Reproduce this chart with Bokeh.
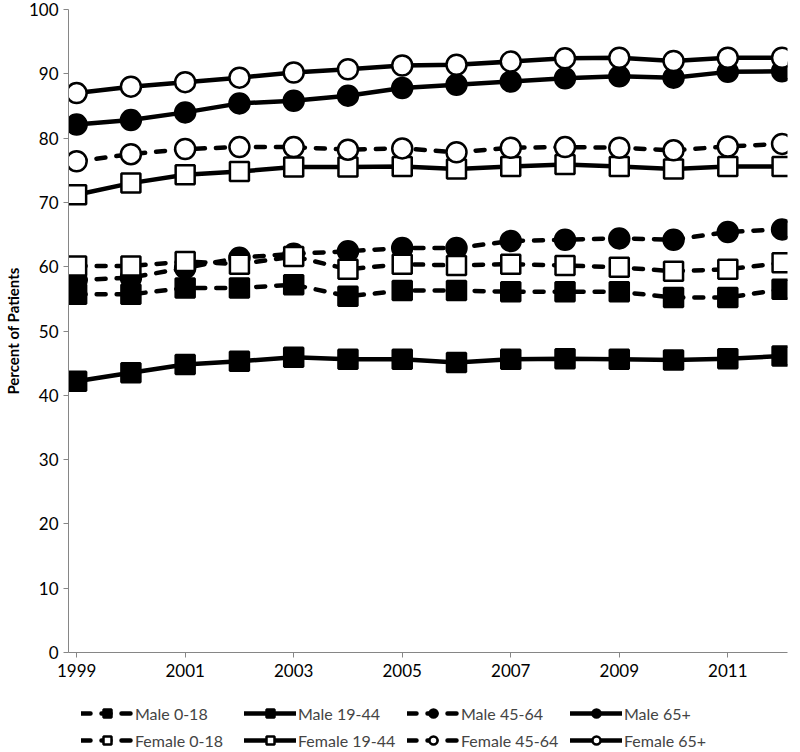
from bokeh.plotting import figure
from bokeh.layouts import column
from bokeh.models import Range1d, Legend, LegendItem, FixedTicker
from bokeh.embed import file_html
from bokeh.resources import INLINE

years = list(range(1999, 2013))

male_0_18 = [55.7, 55.7, 56.7, 56.7, 57.2, 55.4, 56.3, 56.3, 56.1, 56.1, 56.1, 55.2, 55.2, 56.5]
male_19_44 = [42.2, 43.5, 44.8, 45.3, 45.9, 45.6, 45.6, 45.1, 45.6, 45.7, 45.6, 45.5, 45.7, 46.1]
male_45_64 = [57.9, 58.3, 59.8, 61.4, 62.0, 62.4, 62.9, 62.9, 64.0, 64.2, 64.4, 64.2, 65.4, 65.8]
male_65 = [82.1, 82.8, 84.0, 85.4, 85.8, 86.6, 87.8, 88.3, 88.8, 89.3, 89.6, 89.4, 90.3, 90.4]
female_0_18 = [60.1, 60.1, 60.8, 60.4, 61.6, 59.6, 60.4, 60.2, 60.4, 60.2, 59.9, 59.3, 59.6, 60.6]
female_19_44 = [71.2, 73.0, 74.3, 74.8, 75.5, 75.5, 75.6, 75.2, 75.6, 75.9, 75.6, 75.2, 75.6, 75.6]
female_45_64 = [76.4, 77.5, 78.3, 78.6, 78.6, 78.2, 78.4, 77.8, 78.5, 78.6, 78.5, 78.1, 78.7, 79.1]
female_65 = [87.0, 88.0, 88.7, 89.4, 90.2, 90.7, 91.3, 91.4, 91.9, 92.4, 92.5, 92.0, 92.5, 92.5]

x_ticks = [1999, 2001, 2003, 2005, 2007, 2009, 2011]
y_ticks = [0, 10, 20, 30, 40, 50, 60, 70, 80, 90, 100]

series = [
    ("Male 0-18", male_0_18, "dashed", "square", "black"),
    ("Male 19-44", male_19_44, "solid", "square", "black"),
    ("Male 45-64", male_45_64, "dashed", "circle", "black"),
    ("Male 65+", male_65, "solid", "circle", "black"),
    ("Female 0-18", female_0_18, "dashed", "square", "white"),
    ("Female 19-44", female_19_44, "solid", "square", "white"),
    ("Female 45-64", female_45_64, "dashed", "circle", "white"),
    ("Female 65+", female_65, "solid", "circle", "white"),
]

FONT = "Lato"

p = figure(width=792, height=688, output_backend="svg", toolbar_location=None,
           x_range=Range1d(1998.85, 2012.1), y_range=Range1d(0, 100),
           min_border_left=59, min_border_right=5, min_border_top=9, min_border_bottom=36)
p.outline_line_color = None
p.xgrid.visible = False
p.ygrid.visible = False
p.background_fill_color = "white"

for ax in (p.xaxis[0], p.yaxis[0]):
    ax.axis_line_color = "#868686"
    ax.major_tick_line_color = "#868686"
    ax.minor_tick_line_color = None
    ax.major_tick_in = 0
    ax.major_tick_out = 5
    ax.major_label_text_font = FONT
    ax.major_label_text_font_size = "17px"
    ax.major_label_text_color = "black"

p.xaxis.ticker = FixedTicker(ticks=x_ticks)
p.yaxis.ticker = FixedTicker(ticks=y_ticks)
p.yaxis.axis_label = "Percent of Patients"
p.yaxis.axis_label_text_font = FONT
p.yaxis.axis_label_text_font_style = "bold"
p.yaxis.axis_label_text_font_size = "15px"
p.yaxis.axis_label_text_color = "black"
p.yaxis.axis_label_standoff = 4
p.yaxis.major_label_standoff = 5
p.xaxis.major_label_standoff = 6

# legend-only strip below the chart (its ranges keep the proxy data out of view)
lf = figure(width=792, height=64, output_backend="svg", toolbar_location=None,
            x_range=Range1d(0, 1), y_range=Range1d(0, 1),
            x_axis_location=None, y_axis_location=None,
            min_border_left=0, min_border_right=0, min_border_top=0, min_border_bottom=0)
lf.grid.visible = False
lf.outline_line_color = None

male_items = []
female_items = []
for name, vals, dash, marker, fill in series:
    dash_val = "9 11" if dash == "dashed" else "solid"
    size = 19 if marker == "square" else 20
    line_kw = dict(line_color="black", line_width=4.5, line_dash=dash_val,
                   line_cap="round", line_join="round")
    mark_kw = dict(marker=marker, size=size, fill_color=fill, line_color="black", line_width=2.5)
    p.line(years, vals, **line_kw)
    p.scatter(years, vals, **mark_kw)
    lr = lf.line(years, vals, **line_kw)
    sr = lf.scatter(years, vals, **{**mark_kw, "size": 16})
    item = LegendItem(label=name, renderers=[lr, sr])
    (male_items if name.startswith("Male") else female_items).append(item)

for its, yoff in ((male_items, 29), (female_items, 2)):
    lg = Legend(items=its, orientation="horizontal",
                label_text_font=FONT, label_text_font_size="16px",
                glyph_width=52, glyph_height=20, label_height=20, label_width=100,
                label_standoff=2, spacing=9, padding=0, margin=0,
                border_line_color=None, background_fill_alpha=0,
                location=(13, yoff))
    lf.add_layout(lg, "center")

layout = column(p, lf, spacing=0)
open("out.html", "w").write(file_html(layout, INLINE))
